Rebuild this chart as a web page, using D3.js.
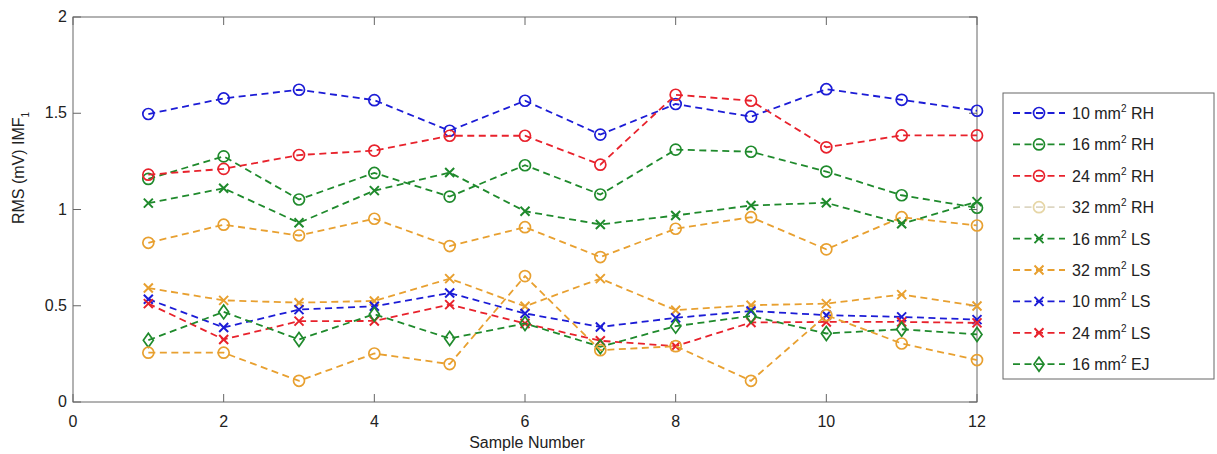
<!DOCTYPE html>
<html><head><meta charset="utf-8">
<script src="https://cdn.jsdelivr.net/npm/d3@7"></script>
<style>body{margin:0;background:#fff}svg{display:block}text{font-family:"Liberation Sans",Arial,sans-serif;fill:#222}</style>
</head><body><svg id="c" width="1217" height="454"></svg>
<script>
const samples = [1,2,3,4,5,6,7,8,9,10,11,12];
const xTicks = [0,2,4,6,8,10,12];
const yTicks = [0,0.5,1,1.5,2];
const yTickLabels = ["0","0.5","1","1.5","2"];

const rh10 = [1.496,1.577,1.622,1.568,1.409,1.565,1.389,1.548,1.482,1.625,1.570,1.513];
const rh16 = [1.159,1.276,1.052,1.190,1.067,1.230,1.078,1.311,1.300,1.197,1.074,1.009];
const rh24 = [1.181,1.211,1.283,1.306,1.383,1.383,1.233,1.596,1.565,1.323,1.385,1.385];
const rh32 = [0.827,0.921,0.865,0.952,0.810,0.908,0.753,0.900,0.960,0.793,0.960,0.917];
const rh32b = [0.256,0.256,0.110,0.252,0.197,0.654,0.269,0.290,0.110,0.451,0.304,0.218];
const ls16 = [1.033,1.110,0.931,1.098,1.192,0.991,0.922,0.969,1.021,1.035,0.926,1.041];
const ls32 = [0.592,0.528,0.516,0.525,0.641,0.497,0.641,0.477,0.503,0.511,0.558,0.499];
const ls10 = [0.534,0.387,0.480,0.497,0.566,0.460,0.390,0.437,0.473,0.451,0.442,0.428];
const ls24 = [0.511,0.325,0.420,0.421,0.506,0.408,0.318,0.290,0.413,0.416,0.416,0.411];
const ej16 = [0.321,0.468,0.325,0.456,0.330,0.408,0.287,0.394,0.447,0.356,0.378,0.351];

const BLUE="#1c1cd6", GREEN="#1f8a2c", RED="#e8222c", ORANGE="#e8a030", FADED="#ddd6c2";

const series = [
  {v:rh10, c:BLUE, m:"o"},
  {v:rh16, c:GREEN, m:"o"},
  {v:rh24, c:RED, m:"o"},
  {v:rh32, c:ORANGE, m:"o"},
  {v:ls16, c:GREEN, m:"x"},
  {v:ls32, c:ORANGE, m:"x"},
  {v:ls10, c:BLUE, m:"x"},
  {v:ls24, c:RED, m:"x"},
  {v:ej16, c:GREEN, m:"d"},
  {v:rh32b, c:ORANGE, m:"o"}
];
const legendNames = ["10","16","24","32","16","32","10","24","16"];
const legendSuffix = ["RH","RH","RH","RH","LS","LS","LS","LS","EJ"];
const legendColors = [BLUE,GREEN,RED,FADED,GREEN,ORANGE,BLUE,RED,GREEN];
const legendMarkers = ["o","o","o","o","x","x","x","x","d"];

const svg = d3.select("#c");
const L=73,R=977,T=17,B=402;
const x = d3.scaleLinear().domain([0,12]).range([L,R]);
const y = d3.scaleLinear().domain([0,2]).range([B,T]);

svg.append("rect").attr("x",L).attr("y",T).attr("width",R-L).attr("height",B-T)
  .attr("fill","none").attr("stroke","#666").attr("stroke-width",1);

const tl=8;
const g = svg.append("g");
xTicks.forEach(t=>{
  g.append("line").attr("x1",x(t)).attr("x2",x(t)).attr("y1",B).attr("y2",B-tl).attr("stroke","#666");
  g.append("line").attr("x1",x(t)).attr("x2",x(t)).attr("y1",T).attr("y2",T+tl).attr("stroke","#666");
  g.append("text").attr("x",x(t)).attr("y",B+25).attr("text-anchor","middle").attr("font-size",16).text(t);
});
yTicks.forEach((t,i)=>{
  g.append("line").attr("x1",L).attr("x2",L+tl).attr("y1",y(t)).attr("y2",y(t)).attr("stroke","#666");
  g.append("line").attr("x1",R).attr("x2",R-tl).attr("y1",y(t)).attr("y2",y(t)).attr("stroke","#666");
  g.append("text").attr("x",L-6).attr("y",y(t)+5).attr("text-anchor","end").attr("font-size",16).text(yTickLabels[i]);
});

svg.append("text").attr("x",527).attr("y",448).attr("text-anchor","middle").attr("font-size",16).text("Sample Number");
const yl = svg.append("text").attr("transform","translate(24,168) rotate(-90)").attr("text-anchor","middle").attr("font-size",16);
yl.append("tspan").text("RMS (mV) IMF");
yl.append("tspan").attr("font-size",10).attr("dy",5).text("1");

function marker(sel, m, cx, cy, c){
  if(m==="o"){
    sel.append("circle").attr("cx",cx).attr("cy",cy).attr("r",5.5).attr("fill","none").attr("stroke",c).attr("stroke-width",1.7);
  } else if(m==="x"){
    const s=4.5;
    sel.append("path").attr("d",`M${cx-s},${cy-s}L${cx+s},${cy+s}M${cx-s},${cy+s}L${cx+s},${cy-s}`).attr("stroke",c).attr("stroke-width",2).attr("fill","none");
  } else {
    sel.append("path").attr("d",`M${cx},${cy-7}L${cx+5},${cy}L${cx},${cy+7}L${cx-5},${cy}Z`).attr("stroke",c).attr("stroke-width",1.7).attr("fill","none");
  }
}

const line = d3.line().x((d,i)=>x(samples[i])).y(d=>y(d));
series.forEach(s=>{
  const gs = svg.append("g");
  gs.append("path").attr("d",line(s.v)).attr("fill","none").attr("stroke",s.c).attr("stroke-width",1.8).attr("stroke-dasharray","7,4.5");
  s.v.forEach((v,i)=>marker(gs,s.m,x(samples[i]),y(v),s.c));
});

const lg = svg.append("g");
lg.append("rect").attr("x",1003).attr("y",93).attr("width",211).attr("height",286).attr("fill","#fff").attr("stroke","#666");
legendNames.forEach((n,i)=>{
  const yy = 113 + i*31.4;
  const c = legendColors[i];
  lg.append("line").attr("x1",1013).attr("x2",1065).attr("y1",yy).attr("y2",yy).attr("stroke",c).attr("stroke-width",1.8).attr("stroke-dasharray","7,4.5");
  marker(lg, legendMarkers[i], 1039, yy, i===3?"#e6d6a6":c);
  const t = lg.append("text").attr("x",1072).attr("y",yy+6).attr("font-size",16);
  t.append("tspan").text(n+" mm");
  t.append("tspan").attr("font-size",10).attr("dy",-7).text("2");
  t.append("tspan").attr("dy",7).text(" "+legendSuffix[i]);
});
</script></body></html>
